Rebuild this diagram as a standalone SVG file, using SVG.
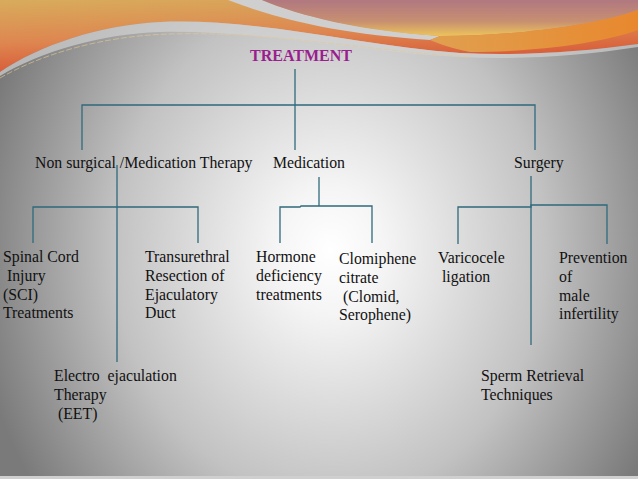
<svg xmlns="http://www.w3.org/2000/svg" width="638" height="479" viewBox="0 0 638 479">
<defs>
<radialGradient id="bg" gradientUnits="userSpaceOnUse" cx="330" cy="250" r="360" gradientTransform="translate(330 250) scale(1 1.15) translate(-330 -250)">
<stop offset="0" stop-color="#ffffff"/>
<stop offset="0.15" stop-color="#f5f5f5"/>
<stop offset="0.6" stop-color="#c2c2c2"/>
<stop offset="1" stop-color="#7a7a7a"/>
</radialGradient>
<linearGradient id="org" x1="0" y1="0" x2="0.3" y2="1">
<stop offset="0" stop-color="#d8ac5c"/>
<stop offset="0.55" stop-color="#de8650"/>
<stop offset="1" stop-color="#d75535"/>
</linearGradient>
<linearGradient id="mauve" x1="0" y1="0" x2="0" y2="1">
<stop offset="0" stop-color="#b07880"/>
<stop offset="0.6" stop-color="#c89070"/>
<stop offset="1" stop-color="#ecc45c"/>
</linearGradient>
<linearGradient id="orb" x1="0" y1="0" x2="1" y2="0">
<stop offset="0" stop-color="#e0a050"/>
<stop offset="1" stop-color="#e8882e"/>
</linearGradient>
</defs>
<style>
.t{font-family:"Liberation Serif","Times New Roman",serif;font-size:15.8px;fill:#111;white-space:pre}
.h{font-family:"Liberation Serif","Times New Roman",serif;font-size:16px;font-weight:bold;fill:#9a1f8e}
.c{stroke:#2f6a7c;stroke-width:1.3;fill:none}
</style>
<rect width="638" height="479" fill="url(#bg)"/>
<path d="M0,0 H638 V44 C580,52 520,56 460,53 C360,46 260,18 160,22 C100,25 40,45 0,72 Z" fill="url(#org)"/>
<path d="M0,72 C40,45 100,25 160,22 C260,18 360,46 460,53 C520,56 580,52 638,44 V47 C580,56 520,60 460,57 C360,52 260,30 160,32 C100,34 40,52 0,76 Z" fill="#d2d2d2" opacity="0.7"/>
<path d="M0,78 C40,55 100,36 170,34 C270,31 360,50 470,57" fill="none" stroke="#e2c890" stroke-width="0.8" stroke-dasharray="6 2" opacity="0.8"/>
<path d="M228,0 C280,20 340,34 430,40 L440,36 C360,30 300,16 262,0 Z" fill="#cfcfcf"/>
<path d="M262,0 H638 V10 C600,24 520,36 440,36 C360,31 300,16 262,0 Z" fill="url(#mauve)"/>
<path d="M440,36 C520,36 600,24 638,10 V30 C600,44 530,52 470,52 C450,48 440,44 430,40 Z" fill="url(#orb)"/>
<rect x="0" y="476" width="638" height="3" fill="#cfcfcf"/>
<g id="connectors" class="c">
<path d="M295,69 V105"/>
<path d="M82,150 V105 H535 V150"/>
<path d="M295,105 V150"/>
<path d="M117,165 V362"/>
<path d="M33,243 V207 H198 V243"/>
<path d="M319,177 V206"/>
<path d="M280,243 V207 H300 L301,206 H372 V243"/>
<path d="M531,176 V345"/>
<path d="M458,244 V207 H531 V205 H607 V244"/>
</g>
<g id="treatment"><text class="h" x="250" y="61">TREATMENT</text></g>
<g id="nonsurgical"><text class="t" x="35" y="168">Non surgical /Medication Therapy</text></g>
<g id="medication"><text class="t" x="273" y="168">Medication</text></g>
<g id="surgery"><text class="t" x="514" y="168">Surgery</text></g>
<g id="sci"><text class="t" x="3" y="262"><tspan x="3">Spinal Cord</tspan><tspan x="3" dy="18.8"> Injury</tspan><tspan x="3" dy="18.8">(SCI)</tspan><tspan x="3" dy="18.8">Treatments</tspan></text></g>
<g id="turd"><text class="t" x="145" y="262"><tspan x="145">Transurethral</tspan><tspan x="145" dy="18.8">Resection of</tspan><tspan x="145" dy="18.8">Ejaculatory</tspan><tspan x="145" dy="18.8">Duct</tspan></text></g>
<g id="eet"><text class="t" x="54" y="381"><tspan x="54">Electro  ejaculation</tspan><tspan x="54" dy="18.8">Therapy</tspan><tspan x="54" dy="18.8"> (EET)</tspan></text></g>
<g id="hormone"><text class="t" x="256" y="262"><tspan x="256">Hormone</tspan><tspan x="256" dy="18.8">deficiency</tspan><tspan x="256" dy="18.8">treatments</tspan></text></g>
<g id="clomiphene"><text class="t" x="339" y="264"><tspan x="339">Clomiphene</tspan><tspan x="339" dy="18.8">citrate</tspan><tspan x="339" dy="18.8"> (Clomid,</tspan><tspan x="339" dy="18.8">Serophene)</tspan></text></g>
<g id="varicocele"><text class="t" x="438" y="263"><tspan x="438">Varicocele</tspan><tspan x="438" dy="18.8"> ligation</tspan></text></g>
<g id="prevention"><text class="t" x="559" y="263"><tspan x="559">Prevention</tspan><tspan x="559" dy="18.8">of</tspan><tspan x="559" dy="18.8">male</tspan><tspan x="559" dy="18.8">infertility</tspan></text></g>
<g id="sperm"><text class="t" x="481" y="381"><tspan x="481">Sperm Retrieval</tspan><tspan x="481" dy="18.8">Techniques</tspan></text></g>
</svg>
